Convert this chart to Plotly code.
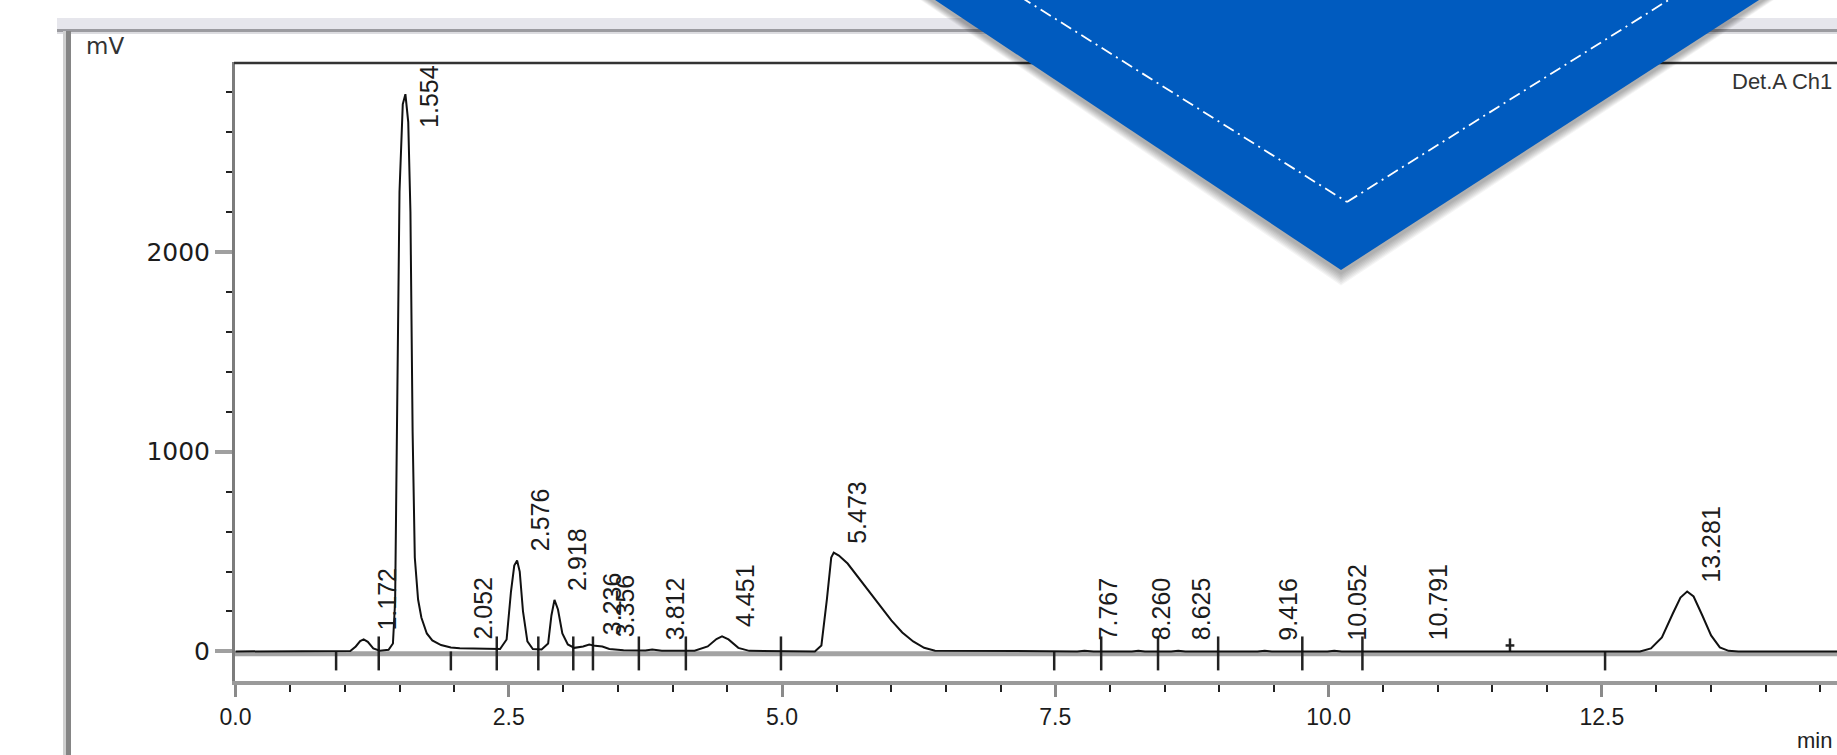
import plotly.graph_objects as go

# ---------------- chromatogram (time in min, signal in mV) ----------------
trace_time = [0.00, 0.90, 1.05, 1.10, 1.14, 1.172, 1.21, 1.26, 1.32, 1.40,
              1.44, 1.46, 1.48, 1.50, 1.53, 1.554, 1.58, 1.60, 1.62, 1.64,
              1.67, 1.70, 1.75, 1.80, 1.88, 1.97, 2.052, 2.15, 2.30, 2.42,
              2.48, 2.52, 2.55, 2.576, 2.60, 2.63, 2.67, 2.72, 2.80, 2.86,
              2.89, 2.918, 2.95, 2.99, 3.04, 3.10, 3.18, 3.236, 3.29, 3.356,
              3.42, 3.55, 3.75, 3.812, 3.90, 4.20, 4.32, 4.40, 4.451, 4.51,
              4.60, 4.70, 5.30, 5.36, 5.41, 5.45, 5.473, 5.52, 5.60, 5.70,
              5.80, 5.90, 6.00, 6.10, 6.20, 6.30, 6.40, 7.70, 7.767, 7.85,
              8.20, 8.260, 8.32, 8.56, 8.625, 8.69, 9.35, 9.416, 9.48, 9.99,
              10.052, 10.12, 10.72, 10.791, 10.86, 12.85, 12.95, 13.05, 13.15, 13.22,
              13.281, 13.34, 13.42, 13.50, 13.58, 13.66, 13.75, 14.70]
trace_mv = [0, 0, 2, 25, 52, 60, 48, 15, 4, 8,
            40, 250, 1200, 2300, 2740, 2790, 2650, 2200, 1100, 470,
            260, 170, 90, 55, 32, 20, 16, 14, 13, 12,
            60, 300, 430, 455, 400, 200, 50, 12, 10, 40,
            180, 258, 210, 90, 35, 18, 25, 35, 28, 25,
            12, 6, 5, 10, 4, 4, 25, 62, 75, 60,
            18, 3, 0, 30, 260, 470, 495, 480, 440, 370,
            300, 225, 155, 95, 50, 18, 4, 0, 4, 0,
            0, 4, 0, 0, 4, 0, 0, 4, 0, 0,
            4, 0, 0, 3, 0, 0, 15, 70, 190, 270,
            300, 275, 180, 80, 20, 3, 0, 0]

# detected peaks: retention time, apex height, printed label
peak_rt = [1.172, 1.554, 2.052, 2.576, 2.918, 3.236, 3.356, 3.812, 4.451,
           5.473, 7.767, 8.260, 8.625, 9.416, 10.052, 10.791, 13.281]
peak_mv = [60, 2790, 16, 455, 258, 35, 25, 10, 75,
           495, 4, 4, 4, 4, 4, 3, 300]
peak_labels = ["1.172", "1.554", "2.052", "2.576", "2.918", "3.236", "3.356",
               "3.812", "4.451", "5.473", "7.767", "8.260", "8.625", "9.416",
               "10.052", "10.791", "13.281"]

# integration event marks on the baseline
cross_marks = [1.31, 2.39, 2.77, 3.09, 3.27, 3.69, 4.12, 4.99,
               7.92, 8.44, 8.99, 9.76, 10.31]
down_marks = [0.92, 1.97, 7.49, 12.53]
up_marks = [11.66]

x_tick_vals = [0.0, 2.5, 5.0, 7.5, 10.0, 12.5]
y_tick_vals = [0, 1000, 2000]
x_range = [-0.005, 14.652]
y_range = [-148, 2951]

# ---------------- page geometry (pixels) ----------------
W, H = 1837, 755
L, R, T, B = 235, 0, 62, 74
PW, PH = W - L - R, H - T - B

def px2x(px):
    return (px - L) / PW

def py2y(py):
    return 1 - (py - T) / PH

FONT = "Liberation Sans, Arial, sans-serif"
WIDE = "DejaVu Sans, Verdana, sans-serif"
INK = "#1c1c1c"

fig = go.Figure()

# event marks
mx, my = [], []
for t in cross_marks:
    mx += [t, t, None]
    my += [75, -95, None]
for t in down_marks:
    mx += [t, t, None]
    my += [0, -95, None]
for t in up_marks:
    mx += [t, t, None, t - 0.04, t + 0.04, None]
    my += [0, 65, None, 30, 30, None]
fig.add_trace(go.Scatter(x=mx, y=my, mode="lines",
                         line=dict(color="#222222", width=2.5),
                         hoverinfo="skip", showlegend=False))

# signal trace
fig.add_trace(go.Scatter(x=trace_time, y=trace_mv, mode="lines",
                         line=dict(color="#111111", width=2),
                         showlegend=False))

# peak labels, rotated, just above each apex
LABEL_SIZE = 25
px_per_mv = PH / (y_range[1] - y_range[0])
annotations = []
for rt, h, lab in zip(peak_rt, peak_mv, peak_labels):
    label_px = 0.52 * LABEL_SIZE * len(lab) + 8
    top_room = (y_range[1] - h) * px_per_mv
    if top_room < label_px + 10:
        annotations.append(dict(x=rt, y=y_range[1], xref="x", yref="y",
                                text=lab, textangle=-90, showarrow=False,
                                xanchor="center", yanchor="top",
                                xshift=23, yshift=-1,
                                font=dict(family=FONT, size=LABEL_SIZE, color=INK)))
    else:
        annotations.append(dict(x=rt, y=max(h, 10), xref="x", yref="y",
                                text=lab, textangle=-90, showarrow=False,
                                xanchor="center", yanchor="bottom",
                                xshift=23, yshift=7,
                                font=dict(family=FONT, size=LABEL_SIZE, color=INK)))

annotations += [
    dict(x=px2x(84), y=py2y(46), xref="paper", yref="paper", text="mV",
         showarrow=False, xanchor="left", yanchor="middle",
         font=dict(family=WIDE, size=23, color="#333333")),
    dict(x=px2x(1834), y=py2y(82), xref="paper", yref="paper", text="Det.A Ch1",
         showarrow=False, xanchor="right", yanchor="middle",
         font=dict(family=FONT, size=22, color="#333333")),
    dict(x=px2x(1834), y=py2y(740), xref="paper", yref="paper", text="min",
         showarrow=False, xanchor="right", yanchor="middle",
         font=dict(family=FONT, size=22, color="#222222")),
]

shapes = []
# window frame: grey band on top and left rule
shapes.append(dict(type="rect", xref="paper", yref="paper", layer="above",
                   x0=px2x(57), x1=px2x(W + 5), y0=py2y(18), y1=py2y(29),
                   fillcolor="#e6e6ec", line=dict(width=0)))
shapes.append(dict(type="rect", xref="paper", yref="paper", layer="above",
                   x0=px2x(57), x1=px2x(W + 5), y0=py2y(29), y1=py2y(32),
                   fillcolor="#9b9ba0", line=dict(width=0)))
shapes.append(dict(type="rect", xref="paper", yref="paper", layer="above",
                   x0=px2x(57), x1=px2x(W + 5), y0=py2y(32), y1=py2y(34),
                   fillcolor="#dcdce0", line=dict(width=0)))
shapes.append(dict(type="rect", xref="paper", yref="paper", layer="above",
                   x0=px2x(63), x1=px2x(66), y0=py2y(31), y1=py2y(H + 5),
                   fillcolor="#cfcfcf", line=dict(width=0)))
shapes.append(dict(type="rect", xref="paper", yref="paper", layer="above",
                   x0=px2x(66), x1=px2x(71), y0=py2y(31), y1=py2y(H + 5),
                   fillcolor="#858585", line=dict(width=0)))

# plot top border
shapes.append(dict(type="line", xref="paper", yref="paper", layer="above",
                   x0=px2x(L - 1), x1=px2x(W + 5), y0=py2y(63), y1=py2y(63),
                   line=dict(color="#333333", width=2.5)))

# integration baseline at 0 mV
shapes.append(dict(type="line", xref="paper", yref="y", layer="below",
                   x0=0, x1=1, y0=-12, y1=-12,
                   line=dict(color="#a3a3a3", width=5)))

# blue ribbon with soft shadow
tri = [(905, -20), (1790, -20), (1341, 270)]

def tri_path(pts, dx=0, dy=0, grow=0):
    (ax, ay), (bx, by), (cx, cy) = pts
    p = [(ax - grow + dx, ay + dy), (bx + grow + dx, by + dy), (cx + dx, cy + grow * 1.3 + dy)]
    return "M " + " L ".join(f"{px2x(x):.5f},{py2y(y):.5f}" for x, y in p) + " Z"

for k in range(1, 9):
    shapes.append(dict(type="path", xref="paper", yref="paper", layer="above",
                       path=tri_path(tri, dx=0, dy=3, grow=k * 1.2),
                       fillcolor="rgba(0,0,0,0.045)", line=dict(width=0)))
shapes.append(dict(type="path", xref="paper", yref="paper", layer="above",
                   path=tri_path(tri), fillcolor="#005bbf", line=dict(width=0)))

# dash-dot stitching inside the ribbon
inner = [(1000, -16), (1347, 202), (1694, -16)]
for (xa, ya), (xb, yb) in [(inner[0], inner[1]), (inner[1], inner[2])]:
    shapes.append(dict(type="line", xref="paper", yref="paper", layer="above",
                       x0=px2x(xa), y0=py2y(ya), x1=px2x(xb), y1=py2y(yb),
                       line=dict(color="white", width=1.8, dash="12px,5px,2px,5px")))

fig.update_layout(
    width=W, height=H,
    margin=dict(l=L, r=R, t=T, b=B, pad=0),
    paper_bgcolor="white", plot_bgcolor="white",
    showlegend=False,
    annotations=annotations,
    shapes=shapes,
    font=dict(family=FONT, size=23, color=INK),
    xaxis=dict(range=x_range, showgrid=False, zeroline=False,
               showline=True, linecolor="#9a9a9a", linewidth=4,
               tickmode="array", tickvals=x_tick_vals,
               ticktext=[f"{v:.1f}" for v in x_tick_vals],
               ticks="outside", ticklen=12, tickwidth=3, tickcolor="#8a8a8a",
               minor=dict(dtick=0.5, tick0=0, ticks="outside", ticklen=7,
                          tickwidth=2, tickcolor="#222222"),
               tickfont=dict(family=FONT, size=23, color=INK)),
    yaxis=dict(range=y_range, showgrid=False, zeroline=False,
               showline=True, linecolor="#7c7c7c", linewidth=3,
               tickmode="array", tickvals=y_tick_vals,
               ticks="outside", ticklen=17, tickwidth=4, tickcolor="#a0a0a0",
               minor=dict(dtick=200, tick0=0, ticks="outside", ticklen=6,
                          tickwidth=2, tickcolor="#222222"),
               tickfont=dict(family=WIDE, size=25, color=INK)),
)

fig.write_html("out.html")
